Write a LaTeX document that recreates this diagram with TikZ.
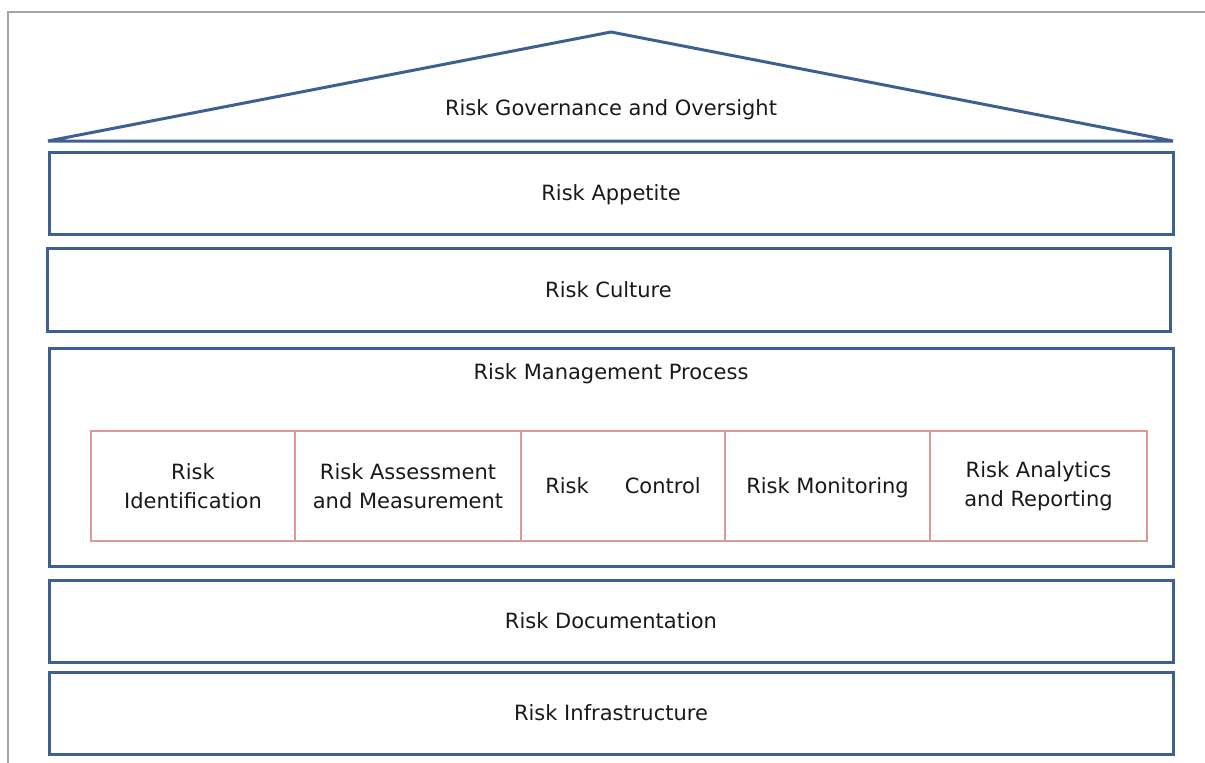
\documentclass[tikz,border=0pt]{standalone}
\usepackage{fontspec}
\setmainfont{DejaVu Sans}
\definecolor{framegray}{RGB}{165, 165, 165}
\definecolor{roofblue}{RGB}{62, 96, 145}
\definecolor{cellred}{RGB}{221, 152, 152}
\definecolor{textgray}{RGB}{25, 25, 25}

\begin{document}
\begin{tikzpicture}[
        x=1pt, y=-1pt,
        every node/.style={text=textgray, font=\fontsize{21}{29}\selectfont},
        flat/.style={text depth=0pt},
        layer/.style={draw=roofblue, line width=3pt, rectangle,
            minimum height=82pt, inner sep=0pt, flat},
        cell/.style={draw=cellred, line width=2.5pt, rectangle,
            minimum height=110pt, align=center, inner sep=0pt}
    ]

    \useasboundingbox (0,0) rectangle (1205,763);
    \draw[framegray, line width=2pt] (8,763) -- (8,12) -- (1205,12);

    % roof
    \coordinate (roofL) at (48,141);
    \coordinate (roofT) at (611,32);
    \coordinate (roofR) at (1173,141);
    \draw[roofblue, line width=3pt, line join=miter] (roofL) -- (roofT) -- (roofR) -- cycle;
    \node[flat] (governance) at (611,108) {Risk Governance and Oversight};

    % layers
    \node[layer, minimum width=1124pt] (appetite) at (611,193) {Risk Appetite};
    \node[layer, minimum width=1123pt, minimum height=83pt] (culture) at (608.5,289.5) {Risk Culture};
    \node[layer, minimum width=1124pt, minimum height=218pt] (process) at (611,457) {};
    \node[flat] (processlabel) at (611,372) {Risk Management Process};
    \node[layer, minimum width=1124pt] (documentation) at (611,621) {Risk Documentation};
    \node[layer, minimum width=1124pt] (infrastructure) at (611,713) {Risk Infrastructure};

    % process steps
    \node[cell, minimum width=204pt] (identification) at (193,486) {Risk\\Identification};
    \node[cell, minimum width=226pt] (assessment) at (408,486) {Risk Assessment\\and Measurement};
    \node[cell, minimum width=204pt, flat] (control) at (623,486) {Risk\hspace{36pt}Control};
    \node[cell, minimum width=205pt, flat] (monitoring) at (827.5,486) {Risk Monitoring};
    \node[cell, minimum width=217pt] (reporting) at (1038.5,486) {Risk Analytics\\and Reporting};

\end{tikzpicture}
\end{document}
